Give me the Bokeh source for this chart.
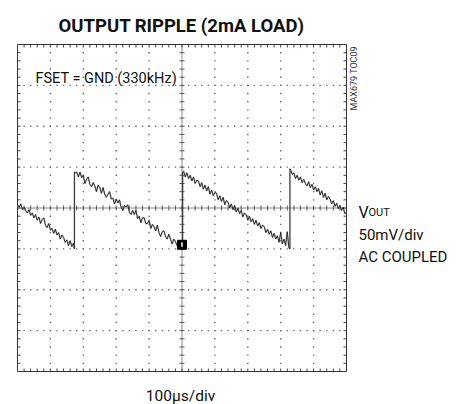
import numpy as np
from bokeh.plotting import figure
from bokeh.models import Label, Range1d
from bokeh.embed import file_html
from bokeh.resources import INLINE

# ---- data (time in us, voltage in mV, AC coupled) ----
seg1_t = [0, 5, 10, 15, 20, 25, 30, 35, 40, 45, 50, 55, 60, 65, 70, 75, 80, 85, 90, 95,
          100, 105, 110, 115, 120, 125, 130, 135, 140, 145, 150, 155, 160, 165, 170, 173]
seg1_v = [4, 1, 5, -2, 1, -3, -6, -2, -9, -6, -12, -8, -15, -11, -19, -14, -12, -21, -24, -19,
          -27, -25, -31, -26, -33, -30, -38, -33, -36, -42, -39, -46, -40, -47, -43, -50]

seg2_t = [173, 176, 180, 185, 190, 195, 200, 205, 210, 215, 220, 225, 230, 235, 240, 245, 250, 255,
          260, 265, 270, 275, 280, 285, 290, 295, 300, 305, 310, 315, 320, 325, 330, 335, 340, 345,
          350, 355, 360, 365, 370, 375, 380, 385, 390, 395, 400, 405, 410, 415, 420, 425, 430, 435,
          440, 445, 450, 455, 460, 465, 470, 475, 480, 485, 490, 495, 500, 502]
seg2_v = [44, 43, 44, 38, 44, 37, 40, 30, 35, 38, 29, 26, 31, 27, 20, 28, 25, 18,
          25, 17, 13, 17, 20, 11, 12, 5, 11, 6, 10, 1, -3, 3, 1, 4, -5, -8,
          -3, -8, -3, -13, -10, -18, -12, -12, -19, -19, -15, -25, -20, -23, -28, -21, -30, -35,
          -29, -28, -35, -38, -32, -38, -44, -38, -41, -46, -41, -50, -47, -49]

seg3_t = [502, 505, 510, 515, 520, 525, 530, 535, 540, 545, 550, 555, 560, 565, 570, 575, 580, 585,
          590, 595, 600, 605, 610, 615, 620, 625, 630, 635, 640, 645, 650, 655, 660, 665, 670, 675,
          680, 685, 690, 695, 700, 705, 710, 715, 720, 725, 730, 735, 740, 745, 750, 755, 760, 765,
          770, 775, 780, 785, 790, 795, 800, 805, 810, 815, 820, 825, 828]
seg3_v = [44, 45, 38, 43, 36, 40, 33, 38, 30, 34, 33, 26, 31, 23, 28, 21, 26, 17,
          22, 15, 19, 18, 10, 15, 8, 13, 4, 9, 7, 0, 5, -2, 3, -5, 0, -7,
          -3, -11, -6, -8, -15, -10, -17, -13, -20, -15, -22, -18, -25, -21, -23, -30, -26, -32,
          -28, -36, -31, -38, -34, -42, -30, -44, -38, -46, -29, -49, -50]

seg4_t = [828, 831, 835, 840, 845, 850, 855, 860, 865, 870, 875, 880, 885, 890, 895, 900, 905, 910,
          915, 920, 925, 930, 935, 940, 945, 950, 955, 960, 965, 970, 975, 980, 985, 990, 995, 1000]
seg4_v = [48, 46, 41, 43, 36, 40, 34, 38, 31, 35, 30, 27, 32, 25, 29, 22, 26, 20,
          24, 16, 21, 13, 18, 10, 14, 11, 5, 9, 2, 6, -1, 3, -3, 1, -7, -5]

trigger_t = [500]
trigger_v = [-45]

X_DIV = 100     # us/div
Y_DIV = 50      # mV/div
N_XDIV = 10
N_YDIV = 8
MINOR = 5

title_text = "OUTPUT RIPPLE (2mA LOAD)"
cond_text = "FSET = GND (330kHz)"
ch_name = "V"
ch_sub = "OUT"
ch_scale = "50mV/div"
ch_coupling = "AC COUPLED"
time_text = "100\u00b5s/div"
code_text = "MAX679 TOC09"

FONT = "Roboto"

# ---- layout: the scope screen occupies pixels BX0..BX1, BY0..BY1 of the canvas ----
W, H = 464, 404
BX0, BX1, BY0, BY1 = 17, 346, 44, 371

x0, x1 = 0, X_DIV * N_XDIV
y0, y1 = -Y_DIV * N_YDIV / 2, Y_DIV * N_YDIV / 2
px_x = (x1 - x0) / (BX1 - BX0)
px_y = (y1 - y0) / (BY1 - BY0)

p = figure(width=W, height=H,
           x_range=Range1d(x0 - BX0 * px_x, x1 + (W - BX1) * px_x),
           y_range=Range1d(y0 - (H - BY1) * px_y, y1 + BY0 * px_y),
           x_axis_type=None, y_axis_type=None, output_backend="svg",
           toolbar_location=None, min_border=0)
p.outline_line_color = None
p.background_fill_color = "white"
p.border_fill_color = "white"


def dx(px):
    return x0 + (px - BX0) * px_x


def dy(py):
    return y1 - (py - BY0) * px_y


mx = np.arange(x0, x1 + 1e-9, X_DIV / MINOR)
my = np.arange(y0, y1 + 1e-9, Y_DIV / MINOR)
majx = np.arange(x0, x1 + 1e-9, X_DIV)
majy = np.arange(y0, y1 + 1e-9, Y_DIV)
xc = (x0 + x1) / 2
yc = 0

# dotted grid
gx, gy = [], []
for xv in majx[1:-1]:
    if abs(xv - xc) < 1e-9:
        continue
    for yv in my[1:-1]:
        gx.append(xv); gy.append(yv)
for yv in majy[1:-1]:
    if abs(yv - yc) < 1e-9:
        continue
    for xv in mx[1:-1]:
        gx.append(xv); gy.append(yv)
p.scatter(gx, gy, marker="square", size=1.4, color="#6a6a6a", line_color=None)

# center cross
p.segment([xc, x0], [y0, yc], [xc, x1], [y1, yc], line_color="#8a8a8a", line_width=1)
tl = 2.5
ix = list(mx[1:-1]); iy = list(my[1:-1])
p.segment(ix, [yc - tl * px_y] * len(ix), ix, [yc + tl * px_y] * len(ix), line_color="#555555")
p.segment([xc - tl * px_x] * len(iy), iy, [xc + tl * px_x] * len(iy), iy, line_color="#555555")

# frame ticks (inward)
fl = 3
p.segment(ix, [y1] * len(ix), ix, [y1 - fl * px_y] * len(ix), line_color="#444444")
p.segment(ix, [y0] * len(ix), ix, [y0 + fl * px_y] * len(ix), line_color="#444444")
p.segment([x0] * len(iy), iy, [x0 + fl * px_x] * len(iy), iy, line_color="#444444")
p.segment([x1] * len(iy), iy, [x1 - fl * px_x] * len(iy), iy, line_color="#444444")

# screen outline
p.quad(left=[x0], right=[x1], bottom=[y0], top=[y1], fill_color=None, line_color="#333333", line_width=1)

# trace
t_all = seg1_t + seg2_t + seg3_t + seg4_t
v_all = seg1_v + seg2_v + seg3_v + seg4_v
p.line(t_all, v_all, line_color="#9a9a9a", line_width=1.8, line_alpha=0.45)
p.line(t_all, v_all, line_color="#1a1a1a", line_width=0.9)

# trigger marker
p.scatter(trigger_t, trigger_v, marker="square", size=9, color="black")
p.segment(trigger_t, [trigger_v[0] - 2 * px_y], trigger_t, [trigger_v[0] + 2.5 * px_y],
          line_color="white", line_width=1.5)


# texts
def lab(px, py, text, size, align="left", style="normal", color="#111111", angle=0.0, baseline="alphabetic"):
    p.add_layout(Label(x=dx(px), y=dy(py), text=text, text_font=FONT, text_font_style=style,
                       text_font_size=size, text_align=align, text_baseline=baseline,
                       text_color=color, angle=angle))


lab(181, 25, title_text, "18.5px", align="center", style="bold")
lab(35, 78, cond_text, "14.5px")
lab(358, 212, ch_name, "16px")
lab(368, 212, ch_sub, "11px")
lab(358, 234, ch_scale, "15px")
lab(358, 256, ch_coupling, "15px")
lab(180, 395, time_text, "15.5px", align="center")
lab(353.5, 110, code_text, "9px", color="#333333", angle=np.pi / 2, baseline="middle")

open("out.html", "w").write(file_html(p, INLINE))
